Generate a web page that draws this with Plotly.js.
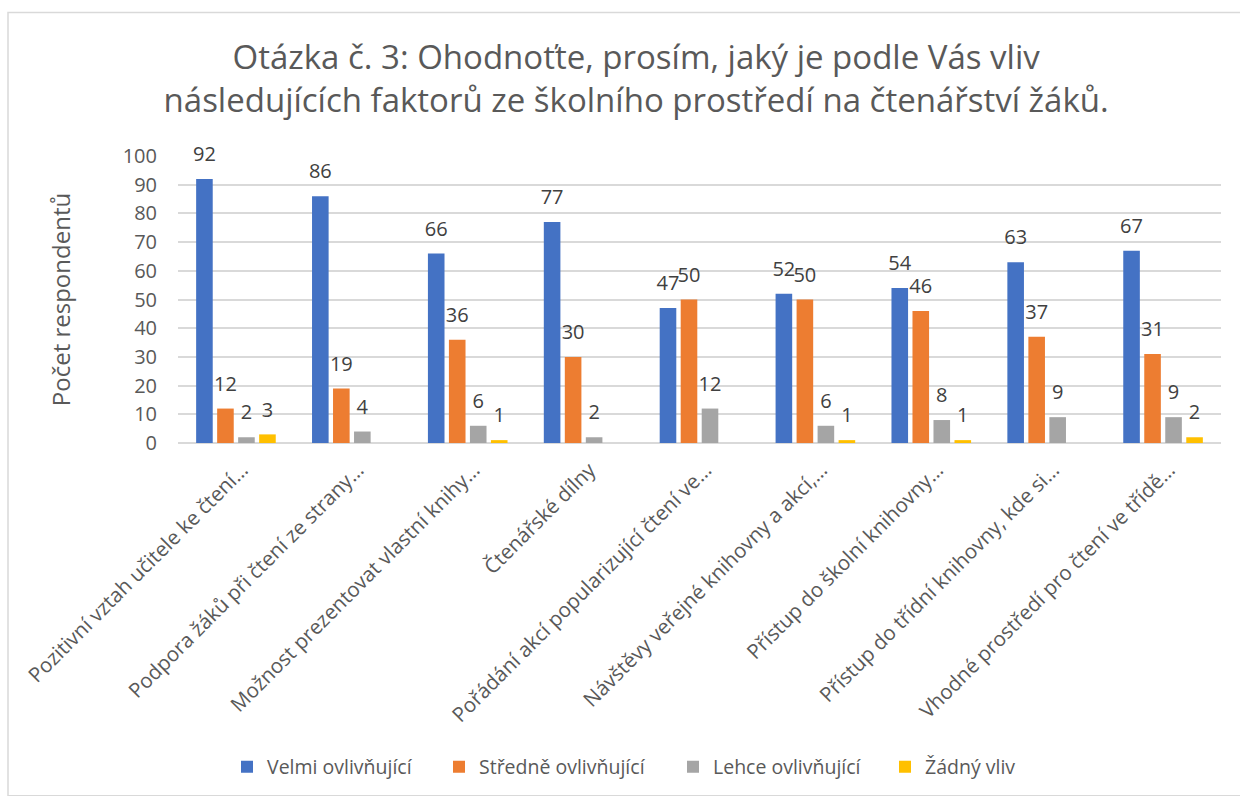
<!DOCTYPE html>
<html>
<head>
<meta charset="utf-8">
<script src="https://cdn.plot.ly/plotly-3.0.1.min.js"></script>
<style>html,body{margin:0;padding:0;background:#fff;}#chart{width:1240px;height:796px;}</style>
</head>
<body>
<div id="chart"></div>
<script>
const categories = [
  "Pozitivní vztah učitele ke čtení…",
  "Podpora žáků při čtení ze strany…",
  "Možnost prezentovat vlastní knihy…",
  "Čtenářské dílny",
  "Pořádání akcí popularizující čtení ve…",
  "Návštěvy veřejné knihovny a akcí,…",
  "Přístup do školní knihovny…",
  "Přístup do třídní knihovny, kde si…",
  "Vhodné prostředí pro čtení ve třídě…"
];
const seriesNames = ["Velmi ovlivňující", "Středně ovlivňující", "Lehce ovlivňující", "Žádný vliv"];
const velmi   = [92, 86, 66, 77, 47, 52, 54, 63, 67];
const stredne = [12, 19, 36, 30, 50, 50, 46, 37, 31];
const lehce   = [2, 4, 6, 2, 12, 6, 8, 9, 9];
const zadny   = [3, 0, 1, 0, 0, 1, 1, 0, 2];
const yTicks  = [0, 10, 20, 30, 40, 50, 60, 70, 80, 90, 100];

const colors = ["#4472C4", "#ED7D31", "#A5A5A5", "#FFC000"];
const seriesValues = [velmi, stredne, lehce, zadny];
const FONT = "Open Sans, DejaVu Sans, sans-serif";
const GAP = 0.275;

const PL = 178, PR = 1221, PT = 156, PB = 444;
const pw = PR - PL, ph = PB - PT;
const px2x = p => (p - PL) / pw;
const py2y = p => (PB - p) / ph;

// legend text start positions (px) in the reference
const legendTextX = [267, 479, 713, 925];
const legendIds = ["legend", "legend2", "legend3", "legend4"];

const traces = [];
seriesValues.forEach((vals, i) => {
  traces.push({
    type: "bar", name: seriesNames[i], x: categories, y: vals,
    marker: {color: colors[i]}, hoverinfo: "x+y+name",
    legend: legendIds[i]
  });
});
seriesValues.forEach((vals, i) => {
  traces.push({
    type: "scatter", mode: "markers+text", x: categories, y: vals,
    text: vals.map(v => v > 0 ? String(v) : ""),
    textposition: "top center",
    textfont: {family: FONT, size: 20, color: "#404040"},
    marker: {size: 19, opacity: 0, color: colors[i]},
    showlegend: false, hoverinfo: "skip", cliponaxis: false
  });
});

const layout = {
  width: 1240, height: 796,
  margin: {l: PL, r: 1240 - PR, t: PT, b: 796 - PB, pad: 0},
  paper_bgcolor: "#ffffff", plot_bgcolor: "#ffffff",
  font: {family: FONT, color: "#595959", size: 20},
  barmode: "group", bargap: GAP, bargroupgap: 0.21,
  scattermode: "group", scattergap: GAP,
  title: {
    text: "Otázka č. 3: Ohodnoťte, prosím, jaký je podle Vás vliv<br>následujících faktorů ze školního prostředí na čtenářství žáků.",
    font: {family: FONT, size: 33, color: "#595959"},
    x: 0.513, xanchor: "center", xref: "container",
    y: 1 - 69 / 796, yanchor: "top", yref: "container"
  },
  xaxis: {
    type: "category", tickangle: -45, showgrid: false, zeroline: false,
    showline: false, ticks: "", tickfont: {family: FONT, size: 20.5, color: "#595959"},
    ticklabelstandoff: 10, ticklabelshift: 6, automargin: false
  },
  yaxis: {
    range: [0, 100], tickvals: yTicks, ticktext: yTicks.map(String),
    showgrid: true, gridcolor: "#D9D9D9", gridwidth: 1.5,
    zeroline: true, zerolinecolor: "#D9D9D9", zerolinewidth: 1.5,
    showline: false, ticks: "", ticklabelstandoff: 20,
    tickfont: {family: FONT, size: 20, color: "#595959"},
    title: {text: "Počet respondentů", font: {family: FONT, size: 24, color: "#595959"}, standoff: 45},
    automargin: false
  },
  shapes: [{
    type: "rect", xref: "paper", yref: "paper",
    x0: px2x(8), x1: px2x(1242), y0: py2y(798), y1: py2y(12),
    line: {color: "#D9D9D9", width: 1.5}, fillcolor: "rgba(0,0,0,0)", layer: "below"
  }],
  showlegend: true
};
legendIds.forEach((id, i) => {
  layout[id] = {
    orientation: "h", x: px2x(legendTextX[i] - 40), xanchor: "left",
    y: py2y(767), yanchor: "middle",
    font: {family: FONT, size: 19.5, color: "#595959"},
    bgcolor: "rgba(0,0,0,0)", borderwidth: 0
  };
});

Plotly.newPlot("chart", traces, layout, {displayModeBar: false, responsive: false});
</script>
</body>
</html>
